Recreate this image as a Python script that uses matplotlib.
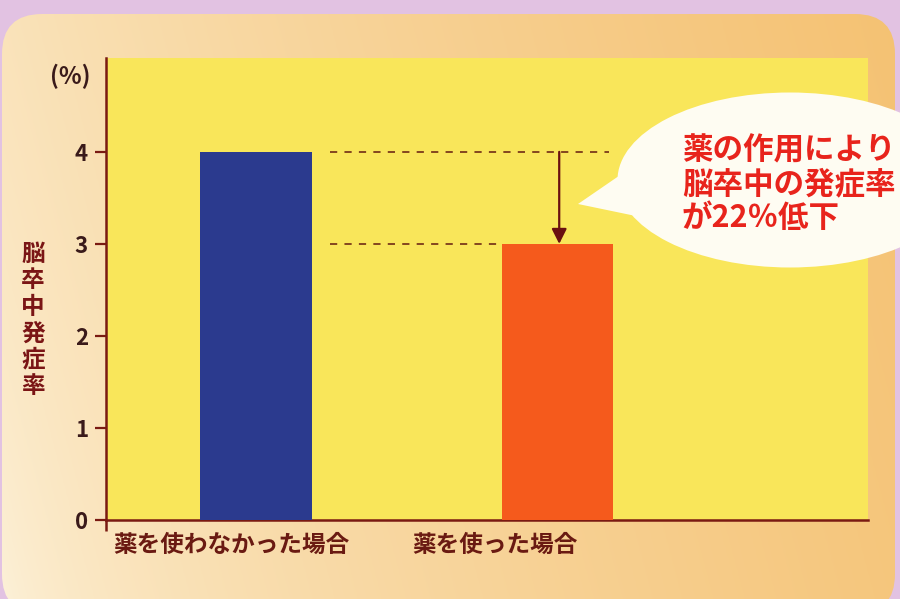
import numpy as np
import matplotlib
matplotlib.use("Agg")
import matplotlib.pyplot as plt
import matplotlib.transforms as mtransforms
from matplotlib.patches import FancyBboxPatch, Ellipse, Polygon

plt.rcParams['font.family'] = ['Noto Sans CJK JP', 'DejaVu Sans']

categories = ["薬を使わなかった場合", "薬を使った場合"]
values = [4.0, 3.0]
bar_colors = ["#2b3a8e", "#f55a1c"]
yticks = [0, 1, 2, 3, 4]
ylabel = "脳卒中発症率"
unit = "(%)"
note = "薬の作用により\n脳卒中の発症率\nが22％低下"

W, H = 900, 599
fig = plt.figure(figsize=(9, 5.99), dpi=100)
fig.patch.set_facecolor("#e2c2e2")

# background panel with gradient
bg = fig.add_axes([0, 0, 1, 1], zorder=-5)
bg.set_xlim(0, W); bg.set_ylim(H, 0); bg.axis("off")
xs = np.linspace(0, 1, 300)
ys = np.linspace(0, 1, 200)
X, Y = np.meshgrid(xs, ys)
c_left = np.array([0.99, 0.95, 0.86])
c_right = np.array([0.96, 0.76, 0.45])
t = np.clip(X * 0.85 + 0.15 * (1 - Y), 0, 1)[..., None] ** 0.6
img = c_left * (1 - t) + c_right * t
panel = FancyBboxPatch((2, 14), 893, 600, boxstyle="round,pad=0,rounding_size=40",
                       transform=bg.transData, facecolor="none", edgecolor="none")
bg.add_patch(panel)
im = bg.imshow(img, extent=(0, W, H, 0), aspect="auto")
im.set_clip_path(panel)

# main axes
ax = fig.add_axes([106 / W, 1 - 520 / H, (868 - 106) / W, (520 - 58) / H])
ax.set_facecolor("#f9e65a")
x = np.arange(len(categories))
ax.bar(x, values, width=0.37, color=bar_colors, zorder=3)
ax.set_xlim(-0.497, 2.03)
ax.set_ylim(0, 5.02)
spine_c = "#7a1a12"
for s in ["top", "right"]:
    ax.spines[s].set_visible(False)
for s in ["left", "bottom"]:
    ax.spines[s].set_color(spine_c)
    ax.spines[s].set_linewidth(1.8)
ax.set_yticks(yticks)
ax.set_yticklabels([str(v) for v in yticks], fontsize=16, fontweight="bold", color="#3a1a1a")
ax.tick_params(axis="y", length=8, width=1.6, color=spine_c, pad=5)
ax.set_xticks(x)
ax.set_xticklabels(categories, fontsize=17, fontweight="bold", color="#6a1a12")
ax.tick_params(axis="x", length=0, pad=9)
shifts = [-24, -62]
for lab, dx in zip(ax.get_xticklabels(), shifts):
    lab.set_transform(lab.get_transform() +
                      mtransforms.ScaledTranslation(dx / 100, 0, fig.dpi_scale_trans))

# dashed reference lines and arrow
dash_c = "#7a3a1a"
ax.hlines(values[0], 0.245, 1.172, colors=dash_c, linestyles=(0, (4, 4)), linewidth=1.3, zorder=4)
ax.hlines(values[1], 0.245, 0.808, colors=dash_c, linestyles=(0, (4, 4)), linewidth=1.3, zorder=4)
ax.annotate("", xy=(1.006, values[1]), xytext=(1.006, values[0]),
            arrowprops=dict(arrowstyle="-|>,head_length=0.9,head_width=0.45",
                            color="#6a1010", lw=1.6, shrinkA=0, shrinkB=0), zorder=5)

# overlay for text and bubble
ov = fig.add_axes([0, 0, 1, 1], zorder=10)
ov.set_xlim(0, W); ov.set_ylim(H, 0); ov.axis("off"); ov.patch.set_alpha(0)
ov.plot([106, 106], [520, 531], color=spine_c, lw=1.8, solid_capstyle="butt")
ov.add_patch(Ellipse((790, 180), 345, 175, facecolor="#fefcf2", edgecolor="none"))
ov.add_patch(Polygon([[645, 158], [578, 204], [655, 220]], closed=True,
                     facecolor="#fefcf2", edgecolor="none"))
ov.text(682, 184, note, fontsize=22, fontweight="bold", color="#e8241c",
        va="center", ha="left", linespacing=1.07)
ov.text(70, 76, unit, fontsize=17, fontweight="bold", color="#3a1a1a", ha="center", va="center")
ov.text(33, 320, "\n".join(ylabel), fontsize=17, fontweight="bold", color="#7a1515",
        ha="center", va="center", linespacing=1.13)

fig.savefig("out.png", dpi=100)
